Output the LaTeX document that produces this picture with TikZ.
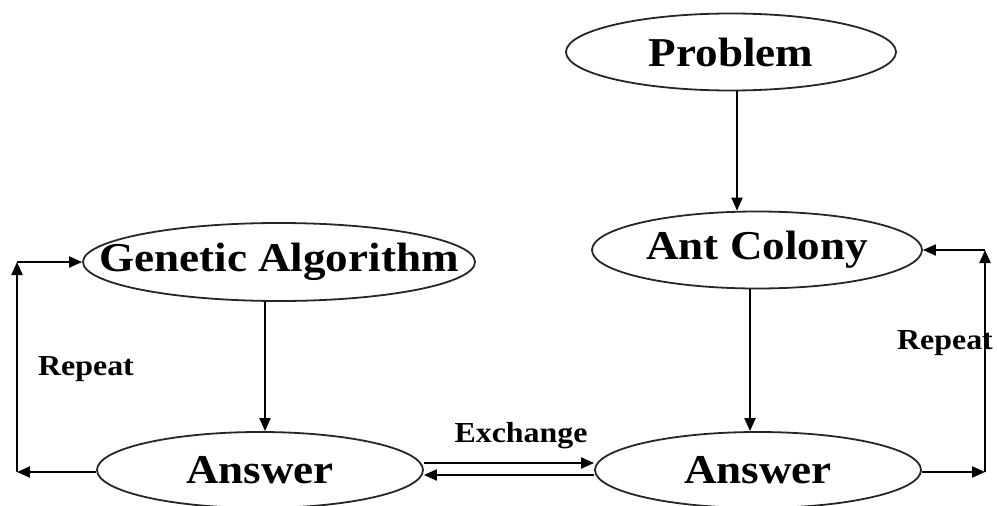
\documentclass[tikz,border=0pt]{standalone}
\usepackage{fontspec}
\setmainfont[FakeStretch=1.1]{Liberation Serif}
\usetikzlibrary{shapes.geometric,arrows.meta}
\tikzset{
  oval/.style={draw=black!85, line width=1.8pt, ellipse, inner sep=0pt, minimum width=#1},
  big/.style={font=\bfseries\fontsize{41}{46}\selectfont},
  small/.style={font=\bfseries\fontsize{29}{34}\selectfont},
  arr/.style={line width=2pt, -{Triangle[length=13pt,width=11pt]}}
}
\begin{document}
\begin{tikzpicture}[x=1pt,y=-1pt]
\useasboundingbox (0,0) rectangle (997,506);

% the five ovals, each a named node with its text as a centred label
\node[oval=330pt, minimum height=77pt, label={[big]center:Problem}] (prob) at (731,52) {};
\node[oval=330pt, minimum height=77pt, label={[big]center:Ant Colony}] (ant) at (757,250) {};
\node[oval=392pt, minimum height=78pt, label={[big]center:Genetic Algorithm}] (ga) at (279,262) {};
\node[oval=326pt, minimum height=76pt, label={[big]center:Answer}] (ansL) at (260,470) {};
\node[oval=326pt, minimum height=76pt, label={[big]center:Answer}] (ansR) at (758,470) {};

% downward flow
\draw[arr] ([xshift=6pt]prob.south) -- ([xshift=6pt]prob.south |- ant.north);
\draw[arr] ([xshift=-7pt]ant.south) -- ([xshift=-7pt]ant.south |- ansR.north);
\draw[arr] ([xshift=-14pt]ga.south) -- ([xshift=-14pt]ga.south |- ansL.north);

% exchange between the two answers
\draw[arr] ([yshift=7pt]ansL.east) -- ([yshift=7pt]ansR.west);
\draw[arr] ([yshift=-5pt]ansR.west) -- ([yshift=-5pt]ansL.east);
\node[small] (exch) at (521,436) {Exchange};

% left repeat loop
\coordinate (lb) at (17,472);
\coordinate (lt) at (17,262);
\draw[arr] ([yshift=-2pt]ansL.west) -- (lb);
\draw[arr] (lb) -- (lt);
\draw[arr] (lt) -- (ga.west);
\node[small] (repL) at (86,369) {Repeat};

% right repeat loop
\coordinate (rb) at (985,472);
\coordinate (rt) at (985,250);
\draw[arr] ([yshift=-2pt]ansR.east) -- (rb);
\draw[arr] (rb) -- (rt);
\draw[arr] (rt) -- (ant.east);
\node[small] (repR) at (945,343) {Repeat};
\end{tikzpicture}
\end{document}
